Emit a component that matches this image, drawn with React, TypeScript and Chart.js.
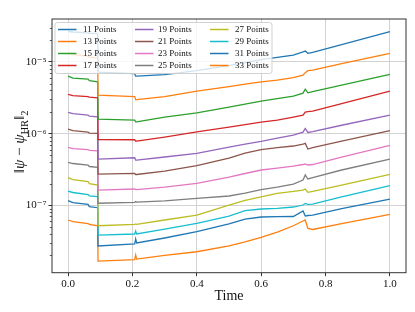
import React, { useEffect, useRef } from 'react';
import { Chart, registerables } from 'chart.js';

Chart.register(...registerables);

// ---- data ----
const TIME = [0, 0.015, 0.062, 0.066, 0.092, 0.093, 0.207, 0.21, 0.213, 0.3, 0.4, 0.5, 0.55, 0.6, 0.65, 0.7, 0.73, 0.737, 0.745, 0.76, 0.85, 1.0];

const LABELS = ['11 Points', '13 Points', '15 Points', '17 Points', '19 Points', '21 Points', '23 Points', '25 Points', '27 Points', '29 Points', '31 Points', '33 Points'];

const S11 = [2.66e-5, 2.62e-5, 2.54e-5, 2.51e-5, 2.50e-5, 7.20e-6, 6.87e-6, 6.34e-6, 6.34e-6, 6.65e-6, 7.56e-6, 8.88e-6, 9.78e-6, 1.08e-5, 1.16e-5, 1.25e-5, 1.38e-5, 1.42e-5, 1.32e-5, 1.36e-5, 1.75e-5, 2.65e-5];
const S13 = [1.34e-5, 1.27e-5, 1.21e-5, 1.17e-5, 1.14e-5, 3.44e-6, 3.28e-6, 2.98e-6, 2.98e-6, 3.28e-6, 3.92e-6, 4.52e-6, 4.90e-6, 5.28e-6, 5.57e-6, 6.04e-6, 6.55e-6, 7.09e-6, 7.56e-6, 7.69e-6, 9.47e-6, 1.32e-5];
const S15 = [6.34e-6, 5.94e-6, 5.76e-6, 5.49e-6, 5.28e-6, 1.59e-6, 1.54e-6, 1.46e-6, 1.46e-6, 1.70e-6, 1.95e-6, 2.34e-6, 2.58e-6, 2.84e-6, 3.08e-6, 3.33e-6, 3.67e-6, 4.18e-6, 3.71e-6, 3.85e-6, 4.75e-6, 6.69e-6];
const S17 = [3.52e-6, 3.39e-6, 3.28e-6, 3.23e-6, 3.16e-6, 8.28e-7, 8.22e-7, 7.89e-7, 7.89e-7, 8.97e-7, 1.06e-6, 1.23e-6, 1.34e-6, 1.45e-6, 1.54e-6, 1.70e-6, 1.81e-6, 2.00e-6, 2.03e-6, 2.06e-6, 2.62e-6, 3.92e-6];
const S19 = [1.98e-6, 1.90e-6, 1.81e-6, 1.75e-6, 1.72e-6, 4.42e-7, 4.61e-7, 4.28e-7, 4.28e-7, 4.72e-7, 5.31e-7, 6.50e-7, 7.16e-7, 7.81e-7, 8.68e-7, 9.56e-7, 1.05e-6, 1.18e-6, 1.04e-6, 1.07e-6, 1.31e-6, 1.81e-6];
const S21 = [1.16e-6, 1.10e-6, 1.05e-6, 1.02e-6, 1.01e-6, 2.73e-7, 2.79e-7, 2.69e-7, 2.69e-7, 3.01e-7, 3.57e-7, 4.57e-7, 5.36e-7, 6.00e-7, 6.40e-7, 6.72e-7, 7.16e-7, 7.32e-7, 6.10e-7, 6.40e-7, 7.89e-7, 1.10e-6];
const S23 = [6.44e-7, 6.20e-7, 6.00e-7, 5.85e-7, 5.77e-7, 1.63e-7, 1.69e-7, 1.66e-7, 1.66e-7, 1.80e-7, 2.03e-7, 2.48e-7, 2.78e-7, 3.11e-7, 3.31e-7, 3.53e-7, 3.71e-7, 3.77e-7, 3.65e-7, 3.71e-7, 4.72e-7, 6.87e-7];
const S25 = [3.98e-7, 3.83e-7, 3.65e-7, 3.48e-7, 3.39e-7, 1.07e-7, 1.10e-7, 1.13e-7, 1.11e-7, 1.15e-7, 1.25e-7, 1.35e-7, 1.48e-7, 1.66e-7, 1.80e-7, 1.98e-7, 2.25e-7, 2.65e-7, 2.33e-7, 2.44e-7, 3.11e-7, 4.42e-7];
const S27 = [2.43e-7, 2.29e-7, 2.15e-7, 2.01e-7, 1.92e-7, 5.19e-8, 5.43e-8, 5.49e-8, 5.43e-8, 6.24e-8, 7.32e-8, 1.01e-7, 1.17e-7, 1.31e-7, 1.47e-7, 1.56e-7, 1.63e-7, 1.69e-7, 1.52e-7, 1.56e-7, 1.92e-7, 2.71e-7];
const S29 = [1.58e-7, 1.51e-7, 1.41e-7, 1.35e-7, 1.32e-7, 3.85e-8, 3.98e-8, 4.38e-8, 3.98e-8, 4.67e-8, 5.61e-8, 7.09e-8, 8.46e-8, 8.88e-8, 9.08e-8, 9.47e-8, 1.01e-7, 1.06e-7, 1.03e-7, 1.04e-7, 1.31e-7, 1.88e-7];
const S31 = [1.16e-7, 1.09e-7, 1.03e-7, 9.62e-8, 9.26e-8, 2.71e-8, 2.89e-8, 3.39e-8, 2.98e-8, 3.50e-8, 4.28e-8, 5.49e-8, 6.44e-8, 6.87e-8, 6.94e-8, 6.98e-8, 8.33e-8, 7.09e-8, 7.21e-8, 7.32e-8, 9.02e-8, 1.22e-7];
const S33 = [6.24e-8, 5.94e-8, 5.57e-8, 5.40e-8, 5.19e-8, 1.67e-8, 1.75e-8, 2.03e-8, 1.78e-8, 2.00e-8, 2.25e-8, 2.71e-8, 3.08e-8, 3.56e-8, 4.24e-8, 5.19e-8, 6.04e-8, 6.24e-8, 4.75e-8, 4.60e-8, 5.57e-8, 7.49e-8];

const SERIES = [S11, S13, S15, S17, S19, S21, S23, S25, S27, S29, S31, S33];
const COLORS = ['#1f77b4', '#ff7f0e', '#2ca02c', '#d62728', '#9467bd', '#8c564b', '#e377c2', '#7f7f7f', '#bcbd22', '#17becf', '#1f77b4', '#ff7f0e'];

const X_TICKS = [0, 0.2, 0.4, 0.6, 0.8, 1.0];
const Y_TICKS = [1e-7, 1e-6, 1e-5];
const X_MIN = -0.05;
const X_MAX = 1.05;
const Y_MIN = 1.148e-8;
const Y_MAX = 3.977e-5;

const SERIF = "'Liberation Serif', 'DejaVu Serif', serif";
const SUP: Record<string, string> = { '-': '⁻', '0': '⁰', '1': '¹', '2': '²', '3': '³', '4': '⁴', '5': '⁵', '6': '⁶', '7': '⁷', '8': '⁸', '9': '⁹' };

const framePlugin = {
  id: 'frame',
  afterDatasetsDraw(chart: any) {
    const { ctx, chartArea: a } = chart;
    const ys = chart.scales.y;
    ctx.save();
    ctx.strokeStyle = '#333';
    ctx.lineWidth = 1;
    ctx.strokeRect(a.left, a.top, a.right - a.left, a.bottom - a.top);
    // minor ticks on the log axis
    ctx.lineWidth = 0.8;
    for (let e = -9; e <= -4; e++) {
      for (let m = 2; m <= 9; m++) {
        const v = m * Math.pow(10, e);
        if (v < ys.min || v > ys.max) continue;
        const py = Math.round(ys.getPixelForValue(v)) + 0.5;
        ctx.beginPath();
        ctx.moveTo(a.left - 2.2, py);
        ctx.lineTo(a.left, py);
        ctx.stroke();
      }
    }
    ctx.restore();
  },
};

const legendPlugin = {
  id: 'insideLegend',
  afterDatasetsDraw(chart: any) {
    const { ctx, chartArea: a } = chart;
    const x0 = a.left + 3;
    const y0 = a.top + 3.5;
    const w = 217;
    const h = 51;
    const r = 2.5;
    ctx.save();
    ctx.beginPath();
    ctx.moveTo(x0 + r, y0);
    ctx.lineTo(x0 + w - r, y0);
    ctx.arcTo(x0 + w, y0, x0 + w, y0 + r, r);
    ctx.lineTo(x0 + w, y0 + h - r);
    ctx.arcTo(x0 + w, y0 + h, x0 + w - r, y0 + h, r);
    ctx.lineTo(x0 + r, y0 + h);
    ctx.arcTo(x0, y0 + h, x0, y0 + h - r, r);
    ctx.lineTo(x0, y0 + r);
    ctx.arcTo(x0, y0, x0 + r, y0, r);
    ctx.closePath();
    ctx.fillStyle = 'rgba(255,255,255,0.8)';
    ctx.fill();
    ctx.strokeStyle = 'rgba(204,204,204,0.9)';
    ctx.lineWidth = 1;
    ctx.stroke();

    const colLine = [3, 80, 155];
    const colText = [28, 103, 180];
    ctx.font = `9px ${SERIF}`;
    ctx.textBaseline = 'middle';
    ctx.textAlign = 'left';
    chart.data.datasets.forEach((ds: any, i: number) => {
      const col = Math.floor(i / 4);
      const row = i % 4;
      const cy = y0 + 7 + row * 12;
      ctx.strokeStyle = ds.borderColor;
      ctx.lineWidth = 1.5;
      ctx.beginPath();
      ctx.moveTo(x0 + colLine[col], cy);
      ctx.lineTo(x0 + colLine[col] + 18.5, cy);
      ctx.stroke();
      ctx.fillStyle = '#111';
      ctx.fillText(ds.label, x0 + colText[col], cy + 0.5);
    });
    ctx.restore();
  },
};

const titlesPlugin = {
  id: 'titles',
  afterDraw(chart: any) {
    const { ctx, chartArea: a } = chart;
    ctx.save();
    ctx.fillStyle = '#111';
    ctx.textBaseline = 'middle';
    ctx.textAlign = 'center';
    ctx.font = `14px ${SERIF}`;
    ctx.fillText('Time', (a.left + a.right) / 2, 296);

    const parts = [
      { t: '‖', font: `15px ${SERIF}`, dy: 0 },
      { t: 'ψ', font: `italic 15px ${SERIF}`, dy: 0 },
      { t: ' − ', font: `15px ${SERIF}`, dy: 0 },
      { t: 'ψ', font: `italic 15px ${SERIF}`, dy: 0 },
      { t: 'HR', font: `10.5px ${SERIF}`, dy: 3.5 },
      { t: '‖', font: `15px ${SERIF}`, dy: 0 },
      { t: '2', font: `10.5px ${SERIF}`, dy: 3.5 },
    ];
    ctx.textAlign = 'left';
    ctx.textBaseline = 'alphabetic';
    const widths = parts.map((p) => {
      ctx.font = p.font;
      return ctx.measureText(p.t).width;
    });
    const total = widths.reduce((s, v) => s + v, 0);
    ctx.translate(24, (a.top + a.bottom) / 2 - 4);
    ctx.rotate(-Math.PI / 2);
    let x = -total / 2;
    parts.forEach((p, i) => {
      ctx.font = p.font;
      ctx.fillText(p.t, x, p.dy);
      x += widths[i];
    });
    ctx.restore();
  },
};

export default function App() {
  const ref = useRef<HTMLCanvasElement | null>(null);

  useEffect(() => {
    document.body.style.margin = '0';
    if (!ref.current) return;
    const datasets = SERIES.map((s, i) => ({
      label: LABELS[i],
      data: s.map((v, j) => ({ x: TIME[j], y: v })),
      borderColor: COLORS[i],
      backgroundColor: COLORS[i],
      borderWidth: 1.3,
      pointRadius: 0,
      tension: 0,
      fill: false,
    }));
    const chart = new Chart(ref.current, {
      type: 'line',
      data: { datasets },
      plugins: [framePlugin, legendPlugin, titlesPlugin],
      options: {
        animation: false,
        responsive: false,
        maintainAspectRatio: false,
        layout: { padding: { left: 0, right: 9, top: 19, bottom: 0 } },
        plugins: { legend: { display: false }, tooltip: { enabled: false } },
        scales: {
          x: {
            type: 'linear',
            min: X_MIN,
            max: X_MAX,
            afterBuildTicks: (s: any) => {
              s.ticks = X_TICKS.map((v) => ({ value: v }));
            },
            afterFit: (s: any) => {
              s.height = 39.3;
            },
            grid: { color: '#d3d3d3', lineWidth: 1, tickColor: '#333', tickLength: 3.5 },
            border: { display: false },
            ticks: {
              font: { family: SERIF, size: 11 },
              color: '#111',
              padding: 1,
              maxRotation: 0,
              autoSkip: false,
              callback: (v: any) => Number(v).toFixed(1),
            },
          },
          y: {
            type: 'logarithmic',
            min: Y_MIN,
            max: Y_MAX,
            afterBuildTicks: (s: any) => {
              s.ticks = Y_TICKS.map((v) => ({ value: v }));
            },
            afterFit: (s: any) => {
              s.width = 52;
            },
            grid: { color: '#d3d3d3', lineWidth: 1, tickColor: '#333', tickLength: 3.5 },
            border: { display: false },
            ticks: {
              font: { family: SERIF, size: 11 },
              color: '#111',
              padding: 2,
              autoSkip: false,
              callback: (v: any) => {
                const e = String(Math.round(Math.log10(Number(v))));
                return '10' + e.split('').map((c) => SUP[c] || c).join('');
              },
            },
          },
        },
      } as any,
    });
    return () => chart.destroy();
  }, []);

  return (
    <div style={{ width: 415, height: 312 }}>
      <canvas ref={ref} width={415} height={312} style={{ display: 'block' }} />
    </div>
  );
}
